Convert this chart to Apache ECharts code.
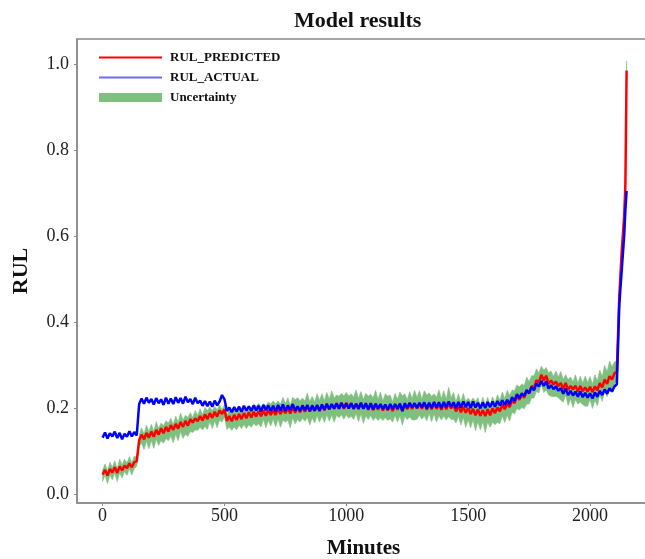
<!DOCTYPE html>
<html lang="en">
<head>
<meta charset="utf-8">
<title>Model results</title>
<script src="https://cdn.jsdelivr.net/npm/echarts@6/dist/echarts.min.js"></script>
</head>
<body style="margin:0;background:#fff">
<div id="main" style="width:645px;height:559px"></div>
<script>
// x values: one sample every 10 minutes, finer steps for the jump at the end
var minutes = [];
for (var m = 0; m <= 2100; m += 10) minutes.push(m);
minutes = minutes.concat([2110, 2120, 2130, 2140, 2145, 2150]);

var rulPredicted = [
    0.045, 0.056, 0.043, 0.058, 0.050, 0.062, 0.049, 0.064, 0.055, 0.066,
    0.060, 0.071, 0.062, 0.074, 0.076, 0.125, 0.138, 0.127, 0.142, 0.131,
    0.145, 0.133, 0.149, 0.138, 0.153, 0.141, 0.156, 0.145, 0.160, 0.149,
    0.163, 0.152, 0.167, 0.156, 0.170, 0.159, 0.174, 0.166, 0.176, 0.169,
    0.181, 0.171, 0.185, 0.174, 0.188, 0.177, 0.191, 0.180, 0.194, 0.186,
    0.197, 0.170, 0.181, 0.169, 0.184, 0.172, 0.186, 0.174, 0.188, 0.176,
    0.190, 0.178, 0.191, 0.180, 0.193, 0.181, 0.194, 0.182, 0.195, 0.184,
    0.196, 0.184, 0.198, 0.186, 0.197, 0.188, 0.199, 0.187, 0.201, 0.189,
    0.202, 0.190, 0.203, 0.191, 0.204, 0.192, 0.201, 0.193, 0.205, 0.194,
    0.206, 0.195, 0.207, 0.197, 0.208, 0.198, 0.209, 0.199, 0.211, 0.198,
    0.212, 0.199, 0.211, 0.198, 0.209, 0.197, 0.210, 0.199, 0.208, 0.196,
    0.209, 0.195, 0.207, 0.196, 0.208, 0.194, 0.206, 0.195, 0.205, 0.193,
    0.206, 0.196, 0.207, 0.192, 0.208, 0.197, 0.209, 0.198, 0.210, 0.199,
    0.211, 0.198, 0.212, 0.196, 0.210, 0.197, 0.211, 0.198, 0.209, 0.196,
    0.210, 0.197, 0.211, 0.199, 0.207, 0.192, 0.205, 0.190, 0.203, 0.189,
    0.200, 0.186, 0.198, 0.183, 0.197, 0.182, 0.195, 0.181, 0.197, 0.183,
    0.199, 0.188, 0.201, 0.192, 0.208, 0.197, 0.210, 0.202, 0.218, 0.211,
    0.228, 0.219, 0.231, 0.224, 0.240, 0.234, 0.251, 0.246, 0.265, 0.259,
    0.277, 0.264, 0.275, 0.256, 0.264, 0.255, 0.261, 0.251, 0.258, 0.244,
    0.258, 0.242, 0.251, 0.243, 0.252, 0.238, 0.251, 0.239, 0.248, 0.238,
    0.249, 0.237, 0.250, 0.241, 0.258, 0.248, 0.266, 0.256, 0.274, 0.266,
    0.280,
    0.285, 0.460, 0.565, 0.645, 0.720, 0.985
];

var rulActual = [
    0.131, 0.143, 0.129, 0.141, 0.134, 0.145, 0.130, 0.142, 0.127, 0.140,
    0.133, 0.146, 0.134, 0.144, 0.136, 0.209, 0.222, 0.210, 0.224, 0.212,
    0.221, 0.208, 0.223, 0.211, 0.220, 0.207, 0.224, 0.210, 0.222, 0.209,
    0.225, 0.212, 0.223, 0.210, 0.226, 0.213, 0.221, 0.209, 0.224, 0.211,
    0.217, 0.205, 0.216, 0.204, 0.215, 0.203, 0.217, 0.206, 0.215, 0.230,
    0.220, 0.193, 0.201, 0.190, 0.202, 0.192, 0.203, 0.191, 0.205, 0.194,
    0.204, 0.193, 0.206, 0.194, 0.205, 0.192, 0.207, 0.195, 0.206, 0.193,
    0.205, 0.192, 0.207, 0.194, 0.208, 0.193, 0.206, 0.195, 0.209, 0.194,
    0.204, 0.193, 0.206, 0.195, 0.207, 0.192, 0.206, 0.194, 0.207, 0.193,
    0.208, 0.196, 0.210, 0.197, 0.209, 0.199, 0.211, 0.198, 0.212, 0.200,
    0.210, 0.199, 0.211, 0.198, 0.210, 0.199, 0.212, 0.198, 0.211, 0.197,
    0.211, 0.197, 0.210, 0.199, 0.209, 0.198, 0.208, 0.196, 0.209, 0.198,
    0.209, 0.199, 0.210, 0.193, 0.211, 0.200, 0.212, 0.201, 0.211, 0.200,
    0.212, 0.201, 0.213, 0.199, 0.212, 0.200, 0.214, 0.201, 0.213, 0.200,
    0.214, 0.202, 0.215, 0.203, 0.213, 0.200, 0.214, 0.201, 0.215, 0.202,
    0.214, 0.200, 0.215, 0.201, 0.212, 0.199, 0.213, 0.200, 0.214, 0.202,
    0.215, 0.203, 0.216, 0.206, 0.218, 0.207, 0.219, 0.209, 0.225, 0.216,
    0.232, 0.223, 0.234, 0.228, 0.242, 0.234, 0.249, 0.241, 0.257, 0.250,
    0.263, 0.251, 0.262, 0.245, 0.253, 0.244, 0.250, 0.240, 0.246, 0.233,
    0.245, 0.230, 0.240, 0.229, 0.238, 0.226, 0.239, 0.225, 0.235, 0.224,
    0.234, 0.222, 0.236, 0.226, 0.240, 0.230, 0.243, 0.233, 0.246, 0.238,
    0.250,
    0.255, 0.440, 0.520, 0.600, 0.660, 0.705
];

// uncertainty band: distance above / below the predicted curve
var spreadUp = [
    0.010, 0.014, 0.011, 0.016, 0.012, 0.015, 0.010, 0.017, 0.013, 0.015,
    0.012, 0.016, 0.011, 0.014, 0.010, 0.012, 0.016, 0.013, 0.018, 0.014,
    0.017, 0.013, 0.019, 0.015, 0.012, 0.018, 0.014, 0.020, 0.016, 0.013,
    0.018, 0.015, 0.021, 0.016, 0.013, 0.019, 0.015, 0.012, 0.018, 0.014,
    0.017, 0.013, 0.016, 0.020, 0.014, 0.017, 0.012, 0.016, 0.013, 0.010,
    0.010, 0.012, 0.016, 0.020, 0.015, 0.018, 0.013, 0.021, 0.016, 0.019,
    0.015, 0.022, 0.017, 0.024, 0.018, 0.021, 0.016, 0.023, 0.019, 0.025,
    0.020, 0.026, 0.018, 0.023, 0.028, 0.021, 0.025, 0.019, 0.024, 0.030,
    0.022, 0.027, 0.020, 0.025, 0.031, 0.023, 0.026, 0.021, 0.028, 0.024,
    0.027, 0.022, 0.029, 0.024, 0.032, 0.025, 0.021, 0.028, 0.023, 0.030,
    0.024, 0.029, 0.022, 0.027, 0.033, 0.025, 0.028, 0.021, 0.026, 0.031,
    0.023, 0.028, 0.034, 0.024, 0.029, 0.022, 0.027, 0.032, 0.025, 0.021,
    0.028, 0.024, 0.030, 0.036, 0.025, 0.022, 0.029, 0.024, 0.031, 0.026,
    0.029, 0.023, 0.028, 0.034, 0.025, 0.030, 0.022, 0.027, 0.033, 0.026,
    0.030, 0.024, 0.037, 0.025, 0.029, 0.022, 0.028, 0.024, 0.031, 0.026,
    0.023, 0.029, 0.025, 0.032, 0.027, 0.024, 0.030, 0.026, 0.028, 0.023,
    0.027, 0.024, 0.030, 0.026, 0.029, 0.025, 0.031, 0.027, 0.024, 0.029,
    0.026, 0.030, 0.025, 0.028, 0.032, 0.027, 0.024, 0.029, 0.026, 0.022,
    0.020, 0.024, 0.019, 0.026, 0.022, 0.018, 0.025, 0.021, 0.027, 0.022,
    0.019, 0.024, 0.021, 0.018, 0.025, 0.020, 0.023, 0.019, 0.026, 0.021,
    0.024, 0.019, 0.027, 0.022, 0.030, 0.025, 0.033, 0.028, 0.035, 0.030,
    0.027,
    0.025, 0.010, 0.010, 0.012, 0.012, 0.022
];

var spreadDown = [
    0.016, 0.012, 0.019, 0.014, 0.017, 0.013, 0.020, 0.015, 0.018, 0.014,
    0.017, 0.013, 0.018, 0.015, 0.012, 0.014, 0.020, 0.024, 0.019, 0.026,
    0.021, 0.027, 0.022, 0.025, 0.029, 0.023, 0.027, 0.021, 0.026, 0.030,
    0.024, 0.028, 0.022, 0.027, 0.031, 0.025, 0.029, 0.023, 0.027, 0.021,
    0.026, 0.022, 0.028, 0.024, 0.020, 0.025, 0.021, 0.026, 0.022, 0.019,
    0.018, 0.020, 0.025, 0.021, 0.028, 0.023, 0.026, 0.022, 0.027, 0.024,
    0.029, 0.023, 0.027, 0.022, 0.030, 0.025, 0.021, 0.028, 0.024, 0.026,
    0.022, 0.028, 0.024, 0.031, 0.025, 0.021, 0.027, 0.033, 0.024, 0.026,
    0.029, 0.023, 0.027, 0.022, 0.026, 0.032, 0.024, 0.028, 0.023, 0.027,
    0.024, 0.029, 0.023, 0.028, 0.025, 0.031, 0.026, 0.022, 0.027, 0.024,
    0.028, 0.023, 0.030, 0.025, 0.022, 0.029, 0.024, 0.035, 0.026, 0.023,
    0.027, 0.024, 0.029, 0.025, 0.031, 0.023, 0.028, 0.024, 0.030, 0.026,
    0.023, 0.029, 0.025, 0.032, 0.027, 0.024, 0.030, 0.026, 0.038, 0.025,
    0.028, 0.024, 0.030, 0.026, 0.023, 0.029, 0.025, 0.031, 0.027, 0.024,
    0.029, 0.025, 0.031, 0.026, 0.033, 0.027, 0.024, 0.030, 0.026, 0.034,
    0.028, 0.032, 0.026, 0.036, 0.029, 0.033, 0.027, 0.038, 0.030, 0.028,
    0.032, 0.027, 0.034, 0.029, 0.026, 0.031, 0.027, 0.033, 0.028, 0.025,
    0.029, 0.024, 0.030, 0.026, 0.031, 0.025, 0.028, 0.023, 0.027, 0.024,
    0.022, 0.028, 0.033, 0.026, 0.037, 0.029, 0.034, 0.027, 0.040, 0.031,
    0.028, 0.036, 0.030, 0.042, 0.033, 0.029, 0.038, 0.031, 0.044, 0.034,
    0.030, 0.038, 0.032, 0.036, 0.028, 0.033, 0.026, 0.030, 0.025, 0.028,
    0.024,
    0.022, 0.010, 0.010, 0.012, 0.012, 0.020
];

var xTicks = [0, 500, 1000, 1500, 2000];
var yTicks = [0.0, 0.2, 0.4, 0.6, 0.8, 1.0];

var serif = 'Liberation Serif';

var predData = [], actualData = [], bandData = [];
for (var i = 0; i < minutes.length; i++) {
    predData.push([minutes[i], rulPredicted[i]]);
    actualData.push([minutes[i], rulActual[i]]);
    bandData.push([minutes[i], rulPredicted[i] - spreadDown[i], rulPredicted[i] + spreadUp[i]]);
}

// whole band as one polygon: upper edge forward, lower edge back
function renderBand(params, api) {
    if (params.dataIndex !== 0) return null;
    var pts = [];
    for (var k = 0; k < bandData.length; k++) pts.push(api.coord([bandData[k][0], bandData[k][2]]));
    for (var k2 = bandData.length - 1; k2 >= 0; k2--) pts.push(api.coord([bandData[k2][0], bandData[k2][1]]));
    return {
        type: 'polygon',
        shape: { points: pts },
        style: { fill: '#7fbf7f', stroke: '#7fbf7f', lineWidth: 0.6 }
    };
}

var chart = echarts.init(document.getElementById('main'));

var option = {
    animation: false,
    backgroundColor: '#fff',
    title: {
        text: 'Model results',
        left: 289,
        top: 5,
        textStyle: { fontFamily: serif, fontWeight: 'bold', fontSize: 22, color: '#111' }
    },
    legend: {
        orient: 'vertical',
        left: 94,
        top: 46,
        itemWidth: 63,
        itemHeight: 9,
        itemGap: 7,
        textStyle: { fontFamily: serif, fontWeight: 'bold', fontSize: 13, color: '#111', padding: [0, 0, 0, 3] },
        data: [
            { name: 'RUL_PREDICTED', icon: 'path://M0,0H63V2H0Z' },
            { name: 'RUL_ACTUAL', icon: 'path://M0,0H63V2H0Z', itemStyle: { color: '#6a6aff' } },
            { name: 'Uncertainty', icon: 'rect', itemStyle: { color: '#7fbf7f', borderWidth: 0 } }
        ]
    },
    grid: {
        left: 77, top: 39, right: -5, bottom: 56,
        outerBoundsMode: 'none',
        containLabel: false,
        show: true, borderColor: '#8a8a8a', borderWidth: 1.5, backgroundColor: 'transparent'
    },
    xAxis: {
        type: 'value',
        min: -105,
        max: 2246,
        splitNumber: 5,
        name: 'Minutes',
        nameLocation: 'middle',
        nameGap: 35,
        nameTextStyle: { fontFamily: serif, fontWeight: 'bold', fontSize: 21, color: '#111' },
        axisLine: { onZero: false, lineStyle: { color: '#8a8a8a', width: 1.5 } },
        axisTick: { length: 3, lineStyle: { color: '#8a8a8a' } },
        splitLine: { show: false },
        axisLabel: {
            fontFamily: serif, fontSize: 18, color: '#222', margin: 4,
            showMinLabel: false, showMaxLabel: false,
            formatter: function (v) { return xTicks.indexOf(v) >= 0 ? String(v) : ''; }
        }
    },
    yAxis: {
        type: 'value',
        min: -0.021,
        max: 1.058,
        splitNumber: 5,
        name: 'RUL',
        nameLocation: 'middle',
        nameGap: 45,
        nameTextStyle: { fontFamily: serif, fontWeight: 'bold', fontSize: 22, color: '#111' },
        axisLine: { show: true, onZero: false, lineStyle: { color: '#8a8a8a', width: 1.5 } },
        axisTick: { show: true, length: 3, lineStyle: { color: '#8a8a8a' } },
        splitLine: { show: false },
        axisLabel: {
            fontFamily: serif, fontSize: 18, color: '#222', margin: 8,
            showMinLabel: false, showMaxLabel: false,
            formatter: function (v) {
                var r = Math.round(v * 10) / 10;
                return (Math.abs(v - r) < 1e-6 && yTicks.indexOf(r) >= 0) ? r.toFixed(1) : '';
            }
        }
    },
    series: [
        {
            name: 'Uncertainty',
            type: 'custom',
            data: bandData,
            encode: { x: 0, y: [1, 2] },
            itemStyle: { color: '#7fbf7f' },
            renderItem: renderBand,
            silent: true
        },
        {
            name: 'RUL_PREDICTED',
            type: 'line',
            data: predData,
            symbol: 'none',
            color: '#ff0000',
            lineStyle: { width: 2.5, color: '#ff0000' }
        },
        {
            name: 'RUL_ACTUAL',
            type: 'line',
            data: actualData,
            symbol: 'none',
            color: '#0000ff',
            lineStyle: { width: 2.5, color: '#0000ff' }
        }
    ]
};

chart.setOption(option);
</script>
</body>
</html>
